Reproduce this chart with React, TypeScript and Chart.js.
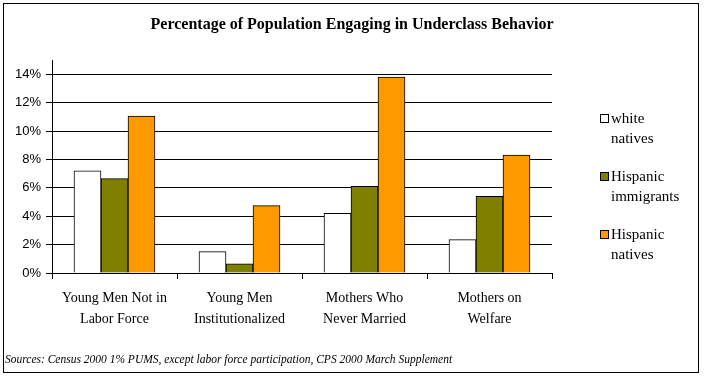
import React, { useEffect, useRef } from "react";
import { Chart, registerables } from "chart.js";

Chart.register(...registerables);

const TITLE = "Percentage of Population Engaging in Underclass Behavior";
const SOURCE =
  "Sources: Census 2000 1% PUMS, except labor force participation, CPS 2000 March Supplement";
const categories: string[][] = [
  ["Young Men Not in", "Labor Force"],
  ["Young Men", "Institutionalized"],
  ["Mothers Who", "Never Married"],
  ["Mothers on", "Welfare"],
];
const seriesNames: string[][] = [
  ["white", "natives"],
  ["Hispanic", "immigrants"],
  ["Hispanic", "natives"],
];
const whiteNatives = [7.2, 1.5, 4.2, 2.35];
const hispanicImmigrants = [6.65, 0.65, 6.1, 5.4];
const hispanicNatives = [11.05, 4.75, 13.8, 8.3];
const seriesColors = ["#FFFFFF", "#808000", "#FF9900"];
const yTicks = [0, 2, 4, 6, 8, 10, 12, 14];

const SERIF = "'Liberation Serif', 'Times New Roman', serif";
const SANS = "'Liberation Sans', Arial, sans-serif";

const decorPlugin = {
  id: "decor",
  beforeDraw(chart: any) {
    const ctx = chart.ctx;
    ctx.save();
    ctx.fillStyle = "#fff";
    ctx.fillRect(0, 0, chart.width, chart.height);
    ctx.restore();
  },
  afterDraw(chart: any) {
    const ctx = chart.ctx;
    const xs = chart.scales.x;
    ctx.save();
    // frame
    ctx.strokeStyle = "#000";
    ctx.lineWidth = 1;
    ctx.strokeRect(3.5, 3.5, 695, 369);
    // title
    ctx.fillStyle = "#000";
    ctx.textAlign = "center";
    ctx.textBaseline = "middle";
    ctx.font = `bold 16px ${SERIF}`;
    ctx.fillText(TITLE, 352, 25);
    // category labels
    ctx.font = `14px ${SERIF}`;
    categories.forEach((lines, i) => {
      const x = xs.getPixelForValue(i);
      lines.forEach((ln, j) => ctx.fillText(ln, x, 298 + j * 21));
    });
    // legend
    ctx.textAlign = "left";
    ctx.font = `15px ${SERIF}`;
    seriesNames.forEach((lines, i) => {
      const y0 = 119 + i * 58;
      ctx.fillStyle = seriesColors[i];
      ctx.fillRect(600.5, y0 - 4.5, 8, 8);
      ctx.strokeStyle = "#000";
      ctx.strokeRect(600.5, y0 - 4.5, 8, 8);
      ctx.fillStyle = "#000";
      lines.forEach((ln, j) => ctx.fillText(ln, 611, y0 + j * 20));
    });
    // source
    ctx.font = `italic 11.5px ${SERIF}`;
    ctx.fillText(SOURCE, 5, 360);
    ctx.restore();
  },
};

export default function App() {
  const ref = useRef<HTMLCanvasElement | null>(null);
  useEffect(() => {
    if (!ref.current) return;
    const mk = (label: string, data: number[], color: string) => ({
      label,
      data,
      backgroundColor: color,
      borderColor: "#000",
      borderWidth: 1,
      barThickness: 27,
    });
    const chart = new Chart(ref.current, {
      type: "bar",
      data: {
        labels: categories.map((c) => c.join(" ")),
        datasets: [
          mk(seriesNames[0].join(" "), whiteNatives, seriesColors[0]),
          mk(seriesNames[1].join(" "), hispanicImmigrants, seriesColors[1]),
          mk(seriesNames[2].join(" "), hispanicNatives, seriesColors[2]),
        ],
      },
      options: {
        animation: false,
        responsive: false,
        devicePixelRatio: 1,
        layout: { padding: { top: 60, right: 152, left: 0, bottom: 0 } },
        plugins: {
          legend: { display: false },
          title: { display: false },
          tooltip: { enabled: false },
        },
        scales: {
          x: {
            grid: {
              display: true,
              drawOnChartArea: false,
              drawTicks: true,
              tickLength: 6,
              color: "#000",
              offset: true,
            },
            border: { display: true, color: "#000" },
            ticks: { display: false },
            afterFit: (s: any) => {
              s.height = 106;
            },
          },
          y: {
            min: 0,
            max: 15,
            afterBuildTicks: (s: any) => {
              s.ticks = yTicks.map((v) => ({ value: v }));
            },
            ticks: {
              callback: (v: any) => `${v}%`,
              font: { family: SANS, size: 13 },
              color: "#000",
              padding: 5,
            },
            grid: { color: "#000", tickLength: 6 },
            border: { display: true, color: "#000" },
            afterFit: (s: any) => {
              s.width = 52;
            },
          },
        },
      },
      plugins: [decorPlugin],
    } as any);
    return () => chart.destroy();
  }, []);
  return (
    <div style={{ position: "fixed", left: 0, top: 0, width: 704, height: 379 }}>
      <canvas ref={ref} width={704} height={379} style={{ width: 704, height: 379 }} />
    </div>
  );
}
